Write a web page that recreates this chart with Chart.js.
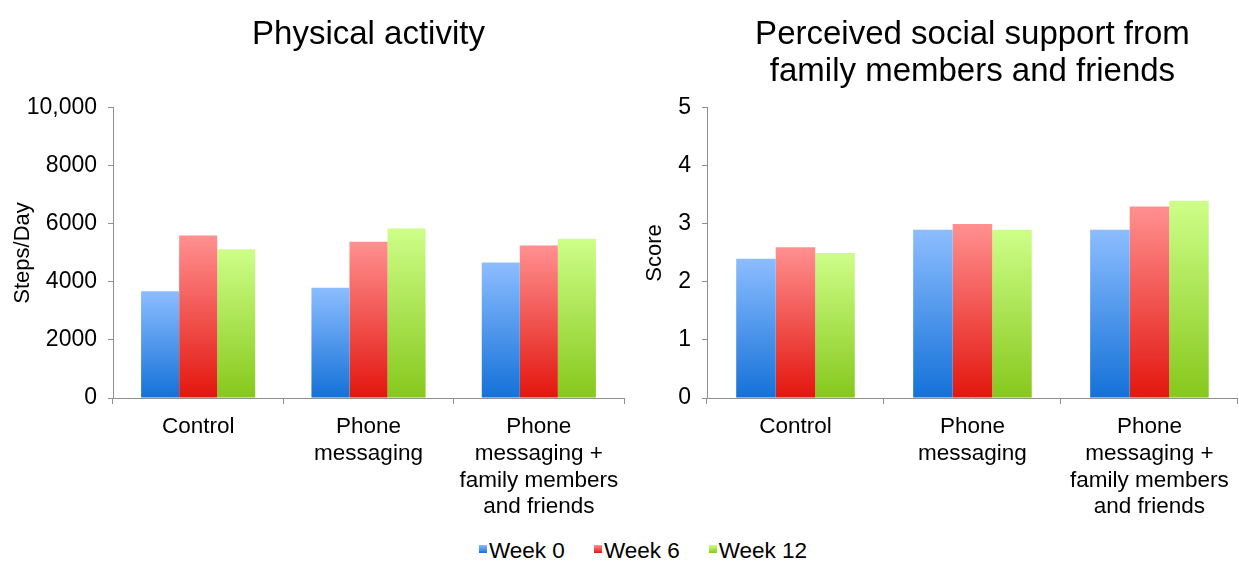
<!DOCTYPE html>
<html>
<head>
<meta charset="utf-8">
<script src="https://cdn.jsdelivr.net/npm/chart.js@4.4.1/dist/chart.umd.min.js"></script>
<style>
  body { margin: 0; background: #fff; width: 1239px; height: 561px; overflow: hidden; position: relative;
         font-family: 'Liberation Sans', Arial, Helvetica, sans-serif; }
  #leftBox { position: absolute; left: 0; top: 0; width: 630px; height: 530px; }
  #rightBox { position: absolute; left: 630px; top: 0; width: 609px; height: 530px; }
  #legend { position: absolute; left: 479px; top: 538px; display: flex; font-size: 22.5px; color: #000; }
  .item { display: flex; align-items: center; margin-right: 29px; }
  .swatch { width: 8px; height: 8px; margin-right: 2px; margin-top: -4px; }
</style>
</head>
<body>
<div id="leftBox"><canvas id="activityChart"></canvas></div>
<div id="rightBox"><canvas id="supportChart"></canvas></div>
<div id="legend"></div>
<script>
// categories and series
const categories = [['Control'], ['Phone', 'messaging'], ['Phone', 'messaging +', 'family members', 'and friends']];
const seriesNames = ['Week 0', 'Week 6', 'Week 12'];

// Physical activity (steps/day)
const stepsWeek0 = [3680, 3800, 4670];
const stepsWeek6 = [5600, 5390, 5260];
const stepsWeek12 = [5130, 5840, 5490];
const stepsTicks = ['0', '2000', '4000', '6000', '8000', '10,000'];

// Perceived social support (score)
const scoreWeek0 = [2.4, 2.9, 2.9];
const scoreWeek6 = [2.6, 3.0, 3.3];
const scoreWeek12 = [2.5, 2.9, 3.4];
const scoreTicks = ['0', '1', '2', '3', '4', '5'];

// top / bottom colour of each series gradient
const seriesColors = [['#8cbdff', '#1471d8'], ['#ff9090', '#e3160e'], ['#cefe88', '#86c81c']];
const FONT = "'Liberation Sans', Arial, Helvetica, sans-serif";
const AXIS = '#8f8f8f';

function barFill(stops) {
    return function(ctx) {
        const chart = ctx.chart;
        if (ctx.type !== 'data' || !chart.chartArea) return stops[1];
        const y = chart.scales.y;
        const top = y.getPixelForValue(ctx.parsed.y);
        const bottom = y.getPixelForValue(0);
        const g = chart.ctx.createLinearGradient(0, top, 0, bottom);
        g.addColorStop(0, stops[0]);
        g.addColorStop(1, stops[1]);
        return g;
    };
}

function makeChart(id, cfg) {
    const datasets = cfg.series.map((values, i) => ({
        label: seriesNames[i],
        data: values,
        backgroundColor: barFill(seriesColors[i]),
        borderWidth: 0,
        barPercentage: 1,
        categoryPercentage: 0.67
    }));
    return new Chart(document.getElementById(id), {
        type: 'bar',
        data: { labels: categories, datasets: datasets },
        options: {
            responsive: true,
            maintainAspectRatio: false,
            animation: false,
            layout: { padding: { left: 0, right: cfg.rightPad, top: 0, bottom: 0 } },
            plugins: {
                legend: { display: false },
                tooltip: { enabled: false },
                title: {
                    display: true,
                    text: cfg.title,
                    fullSize: false,
                    color: '#000',
                    font: { family: FONT, size: 33, weight: 'normal', lineHeight: 1.12 },
                    padding: cfg.titlePad
                }
            },
            scales: {
                x: {
                    ticks: { color: '#000', font: { family: FONT, size: 22.5, lineHeight: 1.18 }, padding: 10, maxRotation: 0, autoSkip: false },
                    grid: { drawOnChartArea: false, tickLength: 6, color: AXIS, offset: true },
                    border: { display: true, color: AXIS },
                    afterFit: s => { s.height = 530 - 398; }
                },
                y: {
                    min: 0,
                    max: cfg.max,
                    ticks: {
                        stepSize: cfg.step,
                        color: '#000',
                        font: { family: FONT, size: 23 },
                        padding: 11,
                        callback: (v, i) => cfg.tickLabels[i]
                    },
                    grid: { drawOnChartArea: false, drawTicks: true, tickLength: 5, color: AXIS },
                    border: { display: true, color: AXIS },
                    title: {
                        display: true,
                        text: cfg.yTitle,
                        color: '#000',
                        font: { family: FONT, size: 22 },
                        padding: { top: cfg.yTitlePad, bottom: 0 }
                    },
                    afterFit: s => { s.width = cfg.axisWidth; }
                }
            }
        }
    });
}

makeChart('activityChart', {
    title: 'Physical activity',
    titlePad: { top: 16, bottom: 55 },
    yTitle: 'Steps/Day',
    yTitlePad: 10,
    axisWidth: 113,
    rightPad: 6,
    max: 10000,
    step: 2000,
    tickLabels: stepsTicks,
    series: [stepsWeek0, stepsWeek6, stepsWeek12]
});

makeChart('supportChart', {
    title: ['Perceived social support from', 'family members and friends'],
    titlePad: { top: 16, bottom: 18 },
    yTitle: 'Score',
    yTitlePad: 12,
    axisWidth: 77,
    rightPad: 0,
    max: 5,
    step: 1,
    tickLabels: scoreTicks,
    series: [scoreWeek0, scoreWeek6, scoreWeek12]
});

// shared legend
const legend = document.getElementById('legend');
seriesNames.forEach((name, i) => {
    const item = document.createElement('div');
    item.className = 'item';
    item.innerHTML = `<span class="swatch" style="background:linear-gradient(${seriesColors[i][0]}, ${seriesColors[i][1]})"></span>${name}`;
    legend.appendChild(item);
});
</script>
</body>
</html>
